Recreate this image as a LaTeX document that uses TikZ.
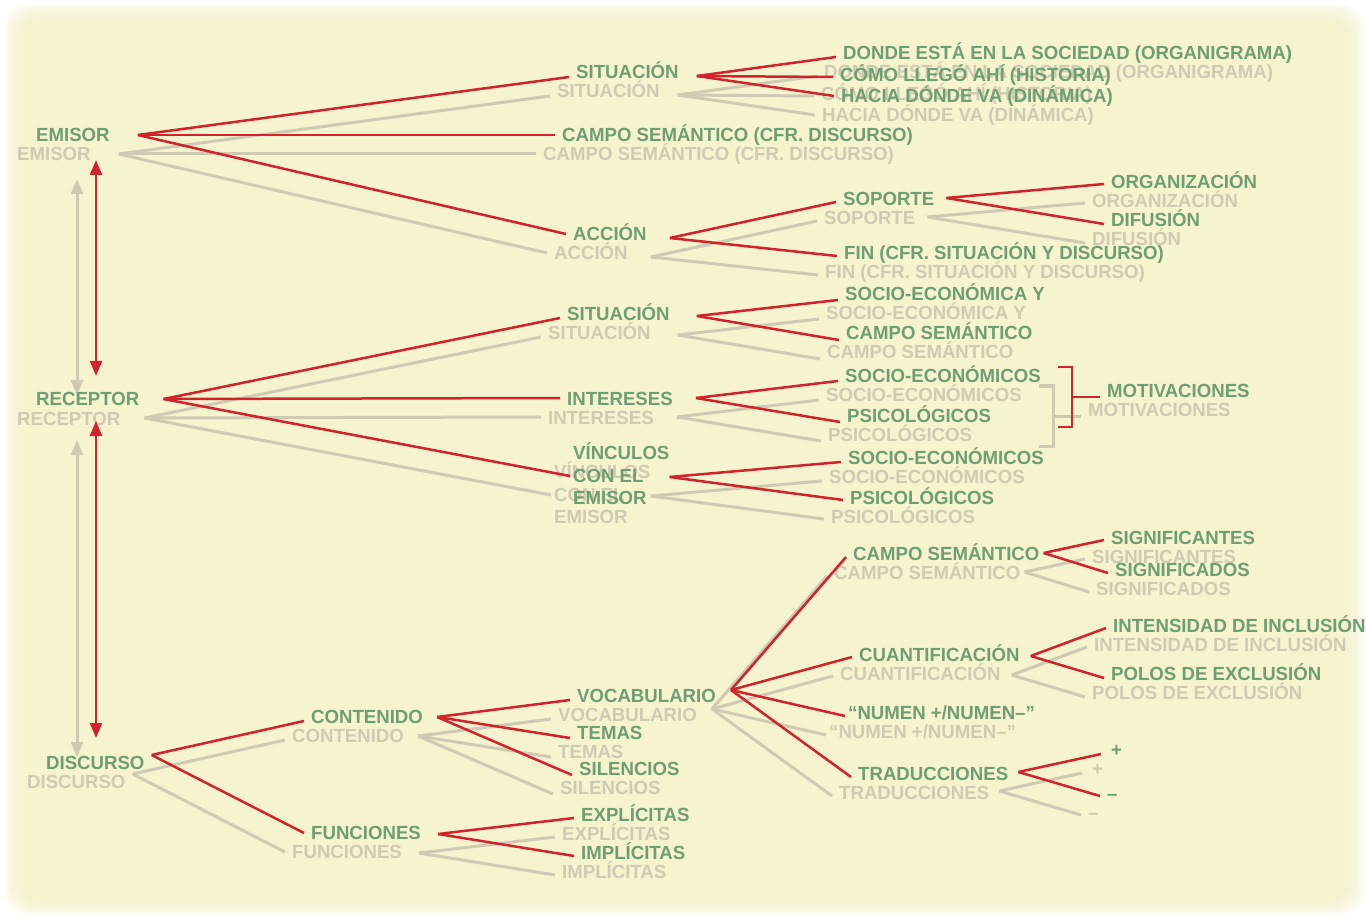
\documentclass[tikz,border=0pt]{standalone}
\usepackage{fontspec}
\setmainfont{Liberation Sans}[FakeStretch=0.98]
\usetikzlibrary{arrows.meta}
\definecolor{bgy}{RGB}{246,243,207}
\definecolor{grn}{RGB}{110,158,114}
\definecolor{rd}{RGB}{210,35,45}
\definecolor{shd}{RGB}{206,203,178}
\tikzset{
  lbl/.style={anchor=west, inner sep=0pt, text height=14pt, text depth=0pt,
    font=\fontsize{19}{22.5}\selectfont\bfseries, text=grn},
  lblm/.style={lbl, text height=, text depth=, align=left},
  ln/.style={draw=rd, line width=2.5pt},
  dar/.style={ln, {Triangle[length=15pt,width=12pt]}-{Triangle[length=15pt,width=12pt]}},
}
\newcommand\drawtree{%
  % level 0
  \node[lbl] (emi) at (36,135) {EMISOR};
  \node[lbl] (rec) at (36,399) {RECEPTOR};
  \node[lbl] (dis) at (46,762) {DISCURSO};
  % emisor branch
  \node[lbl] (sit1) at (576,72) {SITUACIÓN};
  \node[lbl] (cam1) at (562,135) {CAMPO SEMÁNTICO (CFR. DISCURSO)};
  \node[lbl] (acc) at (573,234) {ACCIÓN};
  \node[lbl] (don) at (843,53) {DONDE ESTÁ EN LA SOCIEDAD (ORGANIGRAMA)};
  \node[lbl] (com) at (840,75) {CÓMO LLEGÓ AHÍ (HISTORIA)};
  \node[lbl] (hac) at (841,96) {HACIA DÓNDE VA (DINÁMICA)};
  \node[lbl] (sop) at (843,199) {SOPORTE};
  \node[lbl] (fin) at (844,253) {FIN (CFR. SITUACIÓN Y DISCURSO)};
  \node[lbl] (org) at (1111,182) {ORGANIZACIÓN};
  \node[lbl] (dif) at (1111,220) {DIFUSIÓN};
  % receptor branch
  \node[lbl] (sit2) at (567,314) {SITUACIÓN};
  \node[lbl] (int) at (567,398) {INTERESES};
  \node[lblm] (vin) at (573,474) {VÍNCULOS\\CON EL\\EMISOR};
  \node[lbl] (se1) at (845,294) {SOCIO-ECONÓMICA Y};
  \node[lbl] (cs2) at (846,333) {CAMPO SEMÁNTICO};
  \node[lbl] (se2) at (845,375) {SOCIO-ECONÓMICOS};
  \node[lbl] (ps1) at (847,415) {PSICOLÓGICOS};
  \node[lbl] (mot) at (1107,390) {MOTIVACIONES};
  \node[lbl] (se3) at (848,457) {SOCIO-ECONÓMICOS};
  \node[lbl] (ps2) at (850,497) {PSICOLÓGICOS};
  % discurso branch
  \node[lbl] (con) at (311,716) {CONTENIDO};
  \node[lbl] (fun) at (311,832) {FUNCIONES};
  \node[lbl] (voc) at (577,695) {VOCABULARIO};
  \node[lbl] (tem) at (577,732) {TEMAS};
  \node[lbl] (sil) at (579,768) {SILENCIOS};
  \node[lbl] (exp) at (581,814) {EXPLÍCITAS};
  \node[lbl] (imp) at (581,852) {IMPLÍCITAS};
  \node[lbl] (cs3) at (853,553) {CAMPO SEMÁNTICO};
  \node[lbl] (cua) at (859,654) {CUANTIFICACIÓN};
  \node[lbl] (num) at (848,712) {“NUMEN +/NUMEN–”};
  \node[lbl] (tra) at (858,773) {TRADUCCIONES};
  \node[lbl] (sgt) at (1111,537) {SIGNIFICANTES};
  \node[lbl] (sgd) at (1115,569) {SIGNIFICADOS};
  \node[lbl] (ins) at (1113,625) {INTENSIDAD DE INCLUSIÓN};
  \node[lbl] (pol) at (1111,673) {POLOS DE EXCLUSIÓN};
  \node[lbl] (pls) at (1111,749) {+};
  \node[lbl] (mns) at (1107,793) {–};
  % connectors: emisor
  \draw[ln] ([xshift=28pt]emi.east) -- ([xshift=-7pt,yshift=-5pt]sit1.west);
  \draw[ln] ([xshift=28pt]emi.east) -- ([xshift=-7pt]cam1.west);
  \draw[ln] ([xshift=28pt]emi.east) -- ([xshift=-7pt]acc.west);
  \draw[ln] ([xshift=18pt,yshift=-4pt]sit1.east) -- ([xshift=-7pt,yshift=-4pt]don.west);
  \draw[ln] ([xshift=18pt,yshift=-4pt]sit1.east) -- ([xshift=-7pt,yshift=-2pt]com.west);
  \draw[ln] ([xshift=18pt,yshift=-4pt]sit1.east) -- ([xshift=-7pt]hac.west);
  \draw[ln] ([xshift=23pt,yshift=-4pt]acc.east) -- ([xshift=-7pt,yshift=-3pt]sop.west);
  \draw[ln] ([xshift=23pt,yshift=-4pt]acc.east) -- ([xshift=-7pt,yshift=-3pt]fin.west);
  \draw[ln] ([xshift=12pt,yshift=1pt]sop.east) -- ([xshift=-7pt,yshift=-2pt]org.west);
  \draw[ln] ([xshift=12pt,yshift=1pt]sop.east) -- ([xshift=-7pt,yshift=-4pt]dif.west);
  % connectors: receptor
  \draw[ln] ([xshift=24pt]rec.east) -- ([xshift=-7pt,yshift=-4pt]sit2.west);
  \draw[ln] ([xshift=24pt]rec.east) -- ([xshift=-7pt]int.west);
  \draw[ln] ([xshift=24pt]rec.east) -- ([xshift=-3pt,yshift=-2pt]vin.west);
  \draw[ln] ([xshift=27pt,yshift=-2pt]sit2.east) -- ([xshift=-7pt,yshift=-6pt]se1.west);
  \draw[ln] ([xshift=27pt,yshift=-2pt]sit2.east) -- ([xshift=-7pt,yshift=-7pt]cs2.west);
  \draw[ln] ([xshift=23pt]int.east) -- ([xshift=-7pt,yshift=-6pt]se2.west);
  \draw[ln] ([xshift=23pt]int.east) -- ([xshift=-7pt,yshift=-7pt]ps1.west);
  \draw[ln] ([yshift=-3pt]vin.east) -- ([xshift=-7pt,yshift=-5pt]se3.west);
  \draw[ln] ([yshift=-3pt]vin.east) -- ([xshift=-7pt,yshift=-3pt]ps2.west);
  \coordinate (brt) at (1058,367);
  \coordinate (brb) at (1058,427);
  \coordinate (brm) at (1072,397);
  \draw[ln] (brt) -- (brt -| brm) -- (brb -| brm) -- (brb);
  \draw[ln] (brm) -- ([xshift=-7pt,yshift=-7pt]mot.west);
  % connectors: discurso
  \draw[ln] ([xshift=7pt,yshift=7pt]dis.east) -- ([xshift=-7pt,yshift=-5pt]con.west);
  \draw[ln] ([xshift=7pt,yshift=7pt]dis.east) -- ([xshift=-7pt,yshift=-1pt]fun.west);
  \draw[ln] ([xshift=14pt,yshift=-1pt]con.east) -- ([xshift=-7pt,yshift=-5pt]voc.west);
  \draw[ln] ([xshift=14pt,yshift=-1pt]con.east) -- ([xshift=-7pt,yshift=-6pt]tem.west);
  \draw[ln] ([xshift=14pt,yshift=-1pt]con.east) -- ([xshift=-7pt,yshift=-7pt]sil.west);
  \draw[ln] ([xshift=17pt,yshift=-2pt]fun.east) -- ([xshift=-7pt,yshift=-4pt]exp.west);
  \draw[ln] ([xshift=17pt,yshift=-2pt]fun.east) -- ([xshift=-7pt,yshift=-4pt]imp.west);
  \draw[ln] ([xshift=15pt,yshift=5pt]voc.east) -- ([xshift=-7pt,yshift=-4pt]cs3.west);
  \draw[ln] ([xshift=15pt,yshift=5pt]voc.east) -- ([xshift=-7pt,yshift=-3pt]cua.west);
  \draw[ln] ([xshift=15pt,yshift=5pt]voc.east) -- ([xshift=-3pt,yshift=-4pt]num.west);
  \draw[ln] ([xshift=15pt,yshift=5pt]voc.east) -- ([xshift=-7pt,yshift=-4pt]tra.west);
  \draw[ln] ([xshift=4pt]cs3.east) -- ([xshift=-7pt,yshift=-3pt]sgt.west);
  \draw[ln] ([xshift=4pt]cs3.east) -- ([xshift=-7pt,yshift=-4pt]sgd.west);
  \draw[ln] ([xshift=11pt,yshift=-2pt]cua.east) -- ([xshift=-7pt,yshift=-3pt]ins.west);
  \draw[ln] ([xshift=11pt,yshift=-2pt]cua.east) -- ([xshift=-7pt,yshift=-5pt]pol.west);
  \draw[ln] ([xshift=10pt,yshift=1pt]tra.east) -- ([xshift=-10pt,yshift=-5pt]pls.west);
  \draw[ln] ([xshift=10pt,yshift=1pt]tra.east) -- ([xshift=-7pt,yshift=-3pt]mns.west);
  % vertical double arrows
  \coordinate (a1) at (96,160);
  \coordinate (a2) at (96,376);
  \coordinate (a3) at (96,421);
  \coordinate (a4) at (96,738);
  \draw[dar] (a1) -- (a2);
  \draw[dar] (a3) -- (a4);
}
\begin{document}
\begin{tikzpicture}[x=1pt,y=-1pt]
  \useasboundingbox (0,0) rectangle (1366,917);
  \fill[white] (0,0) rectangle (1366,917);
  \foreach \i in {0,...,7}{
    \fill[bgy, opacity=0.3, rounded corners=24pt] (5+2.4*\i,5+2.4*\i) rectangle (1364-3*\i,914-2.2*\i);
  }
  \fill[bgy, rounded corners=22pt] (24,24) rectangle (1340,897);
  \begin{scope}[shift={(-19,19)}, name prefix=s-,
      lbl/.append style={text=shd}, ln/.append style={draw=shd, line width=3pt}]
    \drawtree
  \end{scope}
  \drawtree
\end{tikzpicture}
\end{document}
